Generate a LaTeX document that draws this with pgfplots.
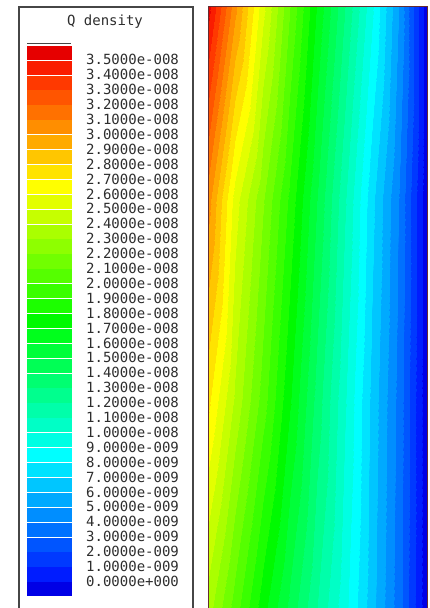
\documentclass[border=0pt]{standalone}
\usepackage{fontspec}
\usepackage{pgfplots}
\pgfplotsset{compat=1.18}
\newfontfamily\qmono{DejaVu Sans Mono}
\definecolor{qtext}{RGB}{45,45,45}
\definecolor{qbox}{RGB}{70,70,70}
\definecolor{qborder}{RGB}{100,45,50}
\pgfplotsset{colormap={qmap}{
rgb255(0cm)=(0,0,230) rgb255(0.97cm)=(0,0,230)
rgb255(1cm)=(0,28,255) rgb255(1.97cm)=(0,28,255)
rgb255(2cm)=(0,57,255) rgb255(2.97cm)=(0,57,255)
rgb255(3cm)=(0,85,255) rgb255(3.97cm)=(0,85,255)
rgb255(4cm)=(0,113,255) rgb255(4.97cm)=(0,113,255)
rgb255(5cm)=(0,142,255) rgb255(5.97cm)=(0,142,255)
rgb255(6cm)=(0,170,255) rgb255(6.97cm)=(0,170,255)
rgb255(7cm)=(0,198,255) rgb255(7.97cm)=(0,198,255)
rgb255(8cm)=(0,227,255) rgb255(8.97cm)=(0,227,255)
rgb255(9cm)=(0,255,255) rgb255(9.97cm)=(0,255,255)
rgb255(10cm)=(0,255,227) rgb255(10.97cm)=(0,255,227)
rgb255(11cm)=(0,255,198) rgb255(11.97cm)=(0,255,198)
rgb255(12cm)=(0,255,170) rgb255(12.97cm)=(0,255,170)
rgb255(13cm)=(0,255,142) rgb255(13.97cm)=(0,255,142)
rgb255(14cm)=(0,255,113) rgb255(14.97cm)=(0,255,113)
rgb255(15cm)=(0,255,85) rgb255(15.97cm)=(0,255,85)
rgb255(16cm)=(0,255,57) rgb255(16.97cm)=(0,255,57)
rgb255(17cm)=(0,255,28) rgb255(17.97cm)=(0,255,28)
rgb255(18cm)=(0,250,0) rgb255(18.97cm)=(0,250,0)
rgb255(19cm)=(28,255,0) rgb255(19.97cm)=(28,255,0)
rgb255(20cm)=(57,255,0) rgb255(20.97cm)=(57,255,0)
rgb255(21cm)=(85,255,0) rgb255(21.97cm)=(85,255,0)
rgb255(22cm)=(113,255,0) rgb255(22.97cm)=(113,255,0)
rgb255(23cm)=(142,255,0) rgb255(23.97cm)=(142,255,0)
rgb255(24cm)=(170,255,0) rgb255(24.97cm)=(170,255,0)
rgb255(25cm)=(198,255,0) rgb255(25.97cm)=(198,255,0)
rgb255(26cm)=(227,255,0) rgb255(26.97cm)=(227,255,0)
rgb255(27cm)=(255,255,0) rgb255(27.97cm)=(255,255,0)
rgb255(28cm)=(255,227,0) rgb255(28.97cm)=(255,227,0)
rgb255(29cm)=(255,198,0) rgb255(29.97cm)=(255,198,0)
rgb255(30cm)=(255,170,0) rgb255(30.97cm)=(255,170,0)
rgb255(31cm)=(255,142,0) rgb255(31.97cm)=(255,142,0)
rgb255(32cm)=(255,113,0) rgb255(32.97cm)=(255,113,0)
rgb255(33cm)=(255,85,0) rgb255(33.97cm)=(255,85,0)
rgb255(34cm)=(255,57,0) rgb255(34.97cm)=(255,57,0)
rgb255(35cm)=(250,28,0) rgb255(35.97cm)=(250,28,0)
rgb255(36cm)=(230,0,0) rgb255(37cm)=(230,0,0)}}

\pgfplotstableread{
x y v
0 0 23.5
0.125 0 20.5
0.25 0 17.4
0.375 0 14.7
0.5 0 12.0
0.625 0 9.3
0.75 0 6.4
0.875 0 3.3
1 0 -0.8

0 0.346 27.3
0.125 0.346 23.8
0.25 0.346 20.5
0.375 0.346 17.1
0.5 0.346 13.6
0.625 0.346 10.1
0.75 0.346 6.7
0.875 0.346 3.5
1 0.346 -0.8

0 0.679 30.5
0.125 0.679 25.5
0.25 0.679 22.1
0.375 0.679 18.7
0.5 0.679 15.0
0.625 0.679 11.1
0.75 0.679 7.3
0.875 0.679 3.8
1 0.679 -0.8

0 1 35.5
0.125 1 30.3
0.25 1 25.3
0.375 1 21.0
0.5 1 16.9
0.625 1 13.0
0.75 1 9.2
0.875 1 4.8
1 1 -0.8
}\qfield

\pgfplotstableread{
x y m
49 35.5 35.5
49 34.5 34.5
49 33.5 33.5
49 32.5 32.5
49 31.5 31.5
49 30.5 30.5
49 29.5 29.5
49 28.5 28.5
49 27.5 27.5
49 26.5 26.5
49 25.5 25.5
49 24.5 24.5
49 23.5 23.5
49 22.5 22.5
49 21.5 21.5
49 20.5 20.5
49 19.5 19.5
49 18.5 18.5
49 17.5 17.5
49 16.5 16.5
49 15.5 15.5
49 14.5 14.5
49 13.5 13.5
49 12.5 12.5
49 11.5 11.5
49 10.5 10.5
49 9.5 9.5
49 8.5 8.5
49 7.5 7.5
49 6.5 6.5
49 5.5 5.5
49 4.5 4.5
49 3.5 3.5
49 2.5 2.5
49 1.5 1.5
49 0.5 0.5
49 -0.5 -0.5
}\qswatch

\begin{document}
\begin{tikzpicture}
% legend panel
\begin{axis}[
  at={(19pt,0pt)}, anchor=south west,
  scale only axis, width=174pt, height=601pt,
  xmin=19, xmax=193, ymin=-1.785, ymax=38.55,
  clip=false,
  colormap name=qmap,
  point meta min=-1, point meta max=36,
  axis line style={draw=none}, tick style={draw=none},
  major tick length=0pt,
  xtick=\empty,
  ytick={0,1,...,35},
  yticklabels={0.0000e+000,1.0000e-009,2.0000e-009,3.0000e-009,4.0000e-009,5.0000e-009,6.0000e-009,7.0000e-009,8.0000e-009,9.0000e-009,1.0000e-008,1.1000e-008,1.2000e-008,1.3000e-008,1.4000e-008,1.5000e-008,1.6000e-008,1.7000e-008,1.8000e-008,1.9000e-008,2.0000e-008,2.1000e-008,2.2000e-008,2.3000e-008,2.4000e-008,2.5000e-008,2.6000e-008,2.7000e-008,2.8000e-008,2.9000e-008,3.0000e-008,3.1000e-008,3.2000e-008,3.3000e-008,3.4000e-008,3.5000e-008},
  yticklabel style={font=\qmono\fontsize{14pt}{16pt}\selectfont, text=qtext, anchor=west, xshift=67pt, inner sep=0pt},
]
\addplot[scatter, only marks, mark=square*, mark size=6.6pt,
  point meta=explicit,
  scatter/use mapped color={draw=mapped color, fill=mapped color},
  mark options={xscale=3.33, line width=0.1pt}]
  table[x=x, y=y, meta=m] {\qswatch};
\draw[qbox, line width=0.9pt] (axis cs:27,36.13) -- (axis cs:71,36.13);
\draw[qbox, line width=1.2pt] (rel axis cs:0,-0.02) -- (rel axis cs:0,1) -- (rel axis cs:1,1) -- (rel axis cs:1,-0.02);
\end{axis}
% contour panel
\begin{axis}[
  at={(208pt,0pt)}, anchor=south west,
  scale only axis, width=219pt, height=601pt,
  xmin=0, xmax=1, ymin=0, ymax=1,
  clip=false, hide axis,
  colormap name=qmap,
  point meta min=-1, point meta max=36,
]
\addplot[surf, shader=interp, mesh/cols=9, point meta=\thisrow{v}]
  table[x=x, y=y] {\qfield};
\draw[qborder, line width=1pt] (rel axis cs:0,-0.02) -- (rel axis cs:0,1) -- (rel axis cs:1,1) -- (rel axis cs:1,-0.02);
\end{axis}
\node[font=\qmono\fontsize{14pt}{16pt}\selectfont, text=qtext] at (105pt,586pt) {Q density};
\pgfresetboundingbox
\path[use as bounding box] (0,0) rectangle (429pt,608pt);
\end{tikzpicture}
\end{document}
